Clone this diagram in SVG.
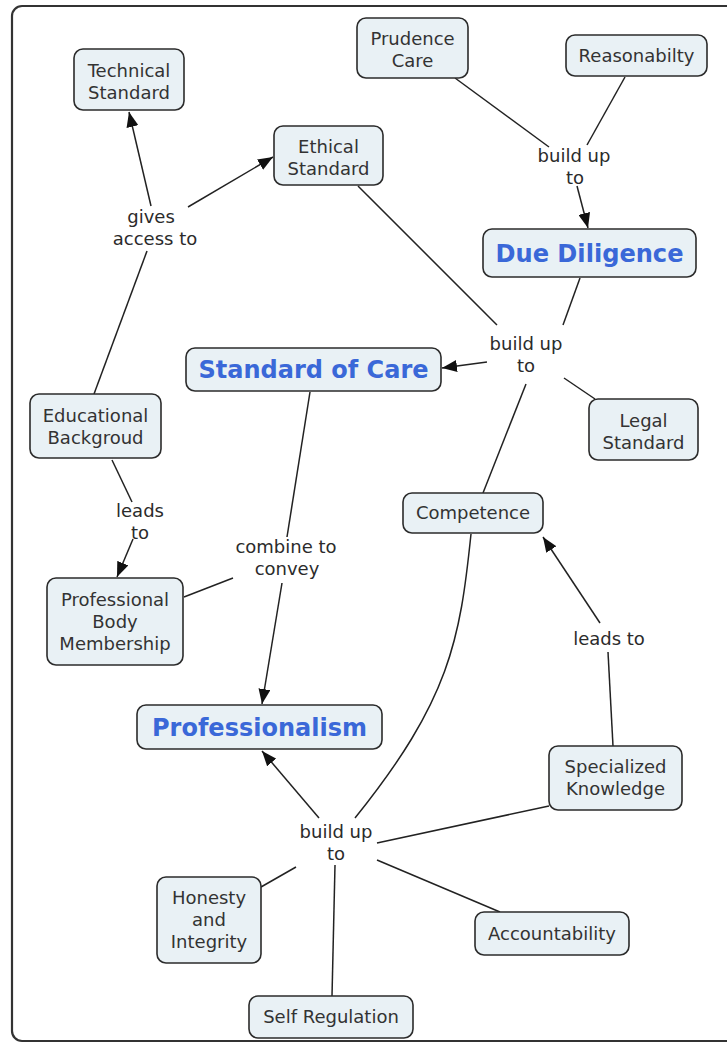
<svg xmlns="http://www.w3.org/2000/svg" width="727" height="1043" viewBox="0 0 727 1043">
<style>
.node rect{fill:#e9f1f5;stroke:#2b2b2b;stroke-width:1.6}
.node text{font-family:"DejaVu Sans",Verdana,sans-serif;font-size:18px;fill:#333;text-anchor:middle}
.node text.title{font-weight:bold;font-size:24px;fill:#3a68d8}
.lbl text{font-family:"DejaVu Sans",Verdana,sans-serif;font-size:18px;fill:#2b2b2b;text-anchor:middle}
#connectors path,#connectors line{stroke:#222;stroke-width:1.5;fill:none}
.arr{marker-end:url(#ah)}
</style>
<defs>
<marker id="ah" markerUnits="userSpaceOnUse" markerWidth="16" markerHeight="12" refX="15" refY="6" orient="auto">
<path d="M0,0 L15,6 L0,12 z" fill="#111"/>
</marker>
</defs>
<rect x="0" y="0" width="727" height="1043" fill="#fff"/>
<rect x="12" y="6" width="740" height="1035" rx="10" fill="none" stroke="#333" stroke-width="2.2"/>

<g id="connectors">
<line class="arr" x1="151" y1="206" x2="129" y2="112"/>
<line class="arr" x1="188" y1="207" x2="273" y2="157"/>
<line x1="94" y1="394" x2="147" y2="251"/>
<line x1="112" y1="460" x2="132" y2="502"/>
<line class="arr" x1="133" y1="539" x2="117" y2="577"/>
<line x1="455" y1="78" x2="549" y2="147"/>
<line x1="625" y1="77" x2="587" y2="145"/>
<line class="arr" x1="577" y1="186" x2="588" y2="228"/>
<line x1="358" y1="186" x2="497" y2="325"/>
<line x1="580" y1="278" x2="563" y2="325"/>
<line class="arr" x1="487" y1="362" x2="442" y2="368"/>
<line x1="564" y1="378" x2="595" y2="399"/>
<line x1="526" y1="384" x2="483" y2="493"/>
<path d="M471,534 C460,640 450,700 355,818"/>
<line x1="613" y1="746" x2="608" y2="652"/>
<line class="arr" x1="600" y1="623" x2="543" y2="537"/>
<line x1="310" y1="392" x2="287" y2="537"/>
<line x1="184" y1="597" x2="233" y2="578"/>
<line class="arr" x1="282" y1="583" x2="262" y2="704"/>
<line class="arr" x1="319" y1="818" x2="262" y2="751"/>
<line x1="549" y1="806" x2="377" y2="843"/>
<line x1="261" y1="887" x2="296" y2="867"/>
<line x1="332" y1="996" x2="335" y2="865"/>
<line x1="500" y1="912" x2="377" y2="860"/>
</g>

<g id="n-technical" class="node"><rect x="74" y="49" width="110" height="61" rx="9"/><text x="129" y="77">Technical</text><text x="129" y="99">Standard</text></g>
<g id="n-ethical" class="node"><rect x="274" y="126" width="109" height="59" rx="9"/><text x="328.5" y="153">Ethical</text><text x="328.5" y="175">Standard</text></g>
<g id="n-prudence" class="node"><rect x="357" y="18" width="111" height="60" rx="9"/><text x="412.5" y="45">Prudence</text><text x="412.5" y="67">Care</text></g>
<g id="n-reason" class="node"><rect x="566" y="35" width="141" height="41" rx="9"/><text x="636.5" y="62">Reasonabilty</text></g>
<g id="n-due" class="node"><rect x="483" y="229" width="213" height="48" rx="9"/><text class="title" x="589.5" y="261.5" textLength="188" lengthAdjust="spacingAndGlyphs">Due Diligence</text></g>
<g id="n-soc" class="node"><rect x="186" y="348" width="255" height="43" rx="9"/><text class="title" x="313.5" y="378" textLength="230" lengthAdjust="spacingAndGlyphs">Standard of Care</text></g>
<g id="n-edu" class="node"><rect x="30" y="394" width="131" height="64" rx="9"/><text x="95.5" y="422">Educational</text><text x="95.5" y="444">Backgroud</text></g>
<g id="n-legal" class="node"><rect x="589" y="399" width="109" height="61" rx="9"/><text x="643.5" y="427">Legal</text><text x="643.5" y="449">Standard</text></g>
<g id="n-comp" class="node"><rect x="403" y="493" width="140" height="40" rx="9"/><text x="473" y="519">Competence</text></g>
<g id="n-pbm" class="node"><rect x="47" y="578" width="136" height="87" rx="9"/><text x="115" y="606">Professional</text><text x="115" y="628">Body</text><text x="115" y="650">Membership</text></g>
<g id="n-prof" class="node"><rect x="137" y="705" width="245" height="44" rx="9"/><text class="title" x="259.5" y="736" textLength="215" lengthAdjust="spacingAndGlyphs">Professionalism</text></g>
<g id="n-spec" class="node"><rect x="549" y="746" width="133" height="64" rx="9"/><text x="615.5" y="773">Specialized</text><text x="615.5" y="795">Knowledge</text></g>
<g id="n-honesty" class="node"><rect x="157" y="877" width="104" height="86" rx="9"/><text x="209" y="904">Honesty</text><text x="209" y="926">and</text><text x="209" y="948">Integrity</text></g>
<g id="n-acc" class="node"><rect x="475" y="912" width="154" height="43" rx="9"/><text x="552" y="940">Accountability</text></g>
<g id="n-self" class="node"><rect x="249" y="996" width="164" height="42" rx="9"/><text x="331" y="1023">Self Regulation</text></g>

<g id="labels" class="lbl">
<g id="l-gives"><text x="151" y="223">gives</text><text x="155" y="245">access to</text></g>
<g id="l-build-top"><text x="574" y="162">build up</text><text x="575" y="184">to</text></g>
<g id="l-build-mid"><text x="526" y="350">build up</text><text x="526" y="372">to</text></g>
<g id="l-leads-left"><text x="140" y="517">leads</text><text x="140" y="539">to</text></g>
<g id="l-combine"><text x="286" y="553">combine to</text><text x="287" y="575">convey</text></g>
<g id="l-leads-right"><text x="609" y="645">leads to</text></g>
<g id="l-build-bot"><text x="336" y="838">build up</text><text x="336" y="860">to</text></g>
</g>
</svg>
